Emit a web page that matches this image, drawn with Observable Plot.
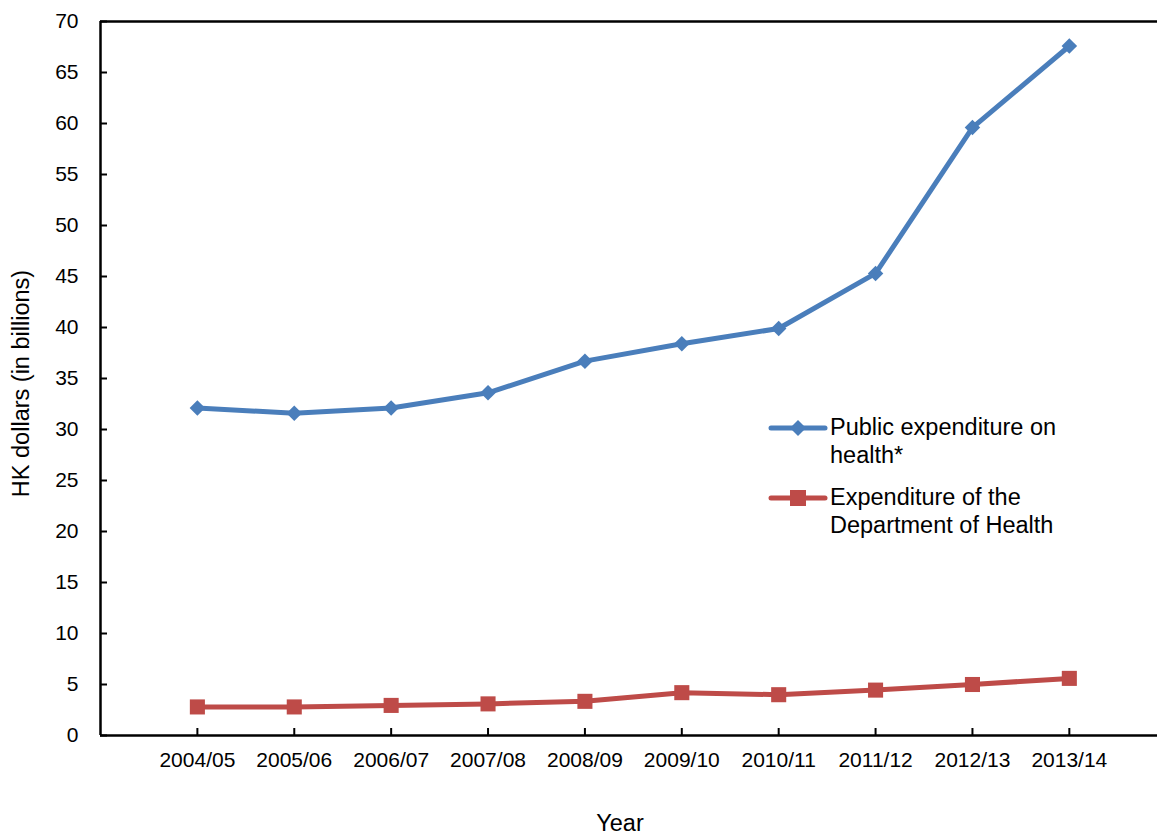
<!DOCTYPE html>
<html>
<head>
<meta charset="utf-8">
<script src="https://cdn.jsdelivr.net/npm/d3@7"></script>
<script src="https://cdn.jsdelivr.net/npm/@observablehq/plot@0.6"></script>
<style>
  html, body { margin: 0; padding: 0; background: #fff; }
  #wrap { position: relative; width: 1157px; height: 834px; font-family: "Liberation Sans", Arial, sans-serif; }
  #legend { position: absolute; left: 768px; top: 413px; font-size: 23.5px; line-height: 28px; color: #000; }
  .item { display: flex; align-items: flex-start; margin-bottom: 14px; }
  .item svg { flex: none; margin-top: 3px; margin-right: 2px; }
</style>
</head>
<body>
<div id="wrap"></div>
<script>
const years = ["2004/05","2005/06","2006/07","2007/08","2008/09","2009/10","2010/11","2011/12","2012/13","2013/14"];
const publicHealth = [32.1, 31.6, 32.1, 33.6, 36.7, 38.4, 39.9, 45.3, 59.6, 67.6];
const deptHealth = [2.8, 2.8, 2.95, 3.1, 3.35, 4.2, 4.0, 4.45, 5.0, 5.6];
const yTicks = d3.range(0, 71, 5);
const seriesNames = ["Public expenditure on health*", "Expenditure of the Department of Health"];
const colors = ["#4a7ebb", "#be4b48"];

const rows = [];
years.forEach((y, i) => {
  rows.push({i, year: y, value: publicHealth[i], series: seriesNames[0]});
  rows.push({i, year: y, value: deptHealth[i], series: seriesNames[1]});
});
const pub = rows.filter(d => d.series === seriesNames[0]);
const dep = rows.filter(d => d.series === seriesNames[1]);
const idx = years.map((_, i) => i);

const chart = Plot.plot({
  width: 1157,
  height: 834,
  marginLeft: 100,
  marginRight: 0,
  marginTop: 21,
  marginBottom: 99,
  style: {fontFamily: "'Liberation Sans', Arial, sans-serif", fontSize: "21px", color: "#000", background: "#fff"},
  x: {type: "linear", domain: [-1, 9.91]},
  y: {domain: [0, 70]},
  marks: [
    Plot.ruleY([70], {stroke: "#000", strokeWidth: 2.5}),
    Plot.ruleY([0], {stroke: "#000", strokeWidth: 2.5}),
    Plot.ruleX([-1], {stroke: "#000", strokeWidth: 2.5}),
    Plot.axisY({ticks: yTicks, tickSize: -7, strokeWidth: 2, text: null, label: null}),
    Plot.axisY({ticks: yTicks, tickSize: 0, tickPadding: 22, fontSize: 21, label: null}),
    Plot.axisX({ticks: idx, tickSize: -7, strokeWidth: 2, text: null, label: null}),
    Plot.axisX({ticks: idx, tickSize: 0, tickPadding: 17, fontSize: 21, tickFormat: i => years[i], label: null}),
    Plot.text(["HK dollars (in billions)"], {frameAnchor: "left", textAnchor: "middle", rotate: -90, dx: -79, dy: 5, fontSize: 23.5}),
    Plot.text(["Year"], {frameAnchor: "bottom", dx: -9, dy: 95, fontSize: 23.5}),
    Plot.line(dep, {x: "i", y: "value", stroke: colors[1], strokeWidth: 5}),
    Plot.dot(dep, {x: "i", y: "value", symbol: "square", fill: colors[1], r: 8.5}),
    Plot.line(pub, {x: "i", y: "value", stroke: colors[0], strokeWidth: 5}),
    Plot.dot(pub, {x: "i", y: "value", symbol: "diamond2", fill: colors[0], r: 7})
  ]
});
const wrap = document.getElementById("wrap");
wrap.appendChild(chart);

const legend = document.createElement("div");
legend.id = "legend";
const markers = [
  `<polygon points="30,4 38,12 30,20 22,12" fill="${colors[0]}"/>`,
  `<rect x="22" y="4" width="16" height="16" fill="${colors[1]}"/>`
];
const labels = [["Public expenditure on", "health*"], ["Expenditure of the", "Department of Health"]];
labels.forEach((lab, k) => {
  const item = document.createElement("div");
  item.className = "item";
  item.innerHTML = `<svg width="60" height="24"><line x1="3" y1="12" x2="57" y2="12" stroke="${colors[k]}" stroke-width="5" stroke-linecap="round"/>${markers[k]}</svg><div>${lab[0]}<br>${lab[1]}</div>`;
  legend.appendChild(item);
});
wrap.appendChild(legend);
</script>
</body>
</html>
